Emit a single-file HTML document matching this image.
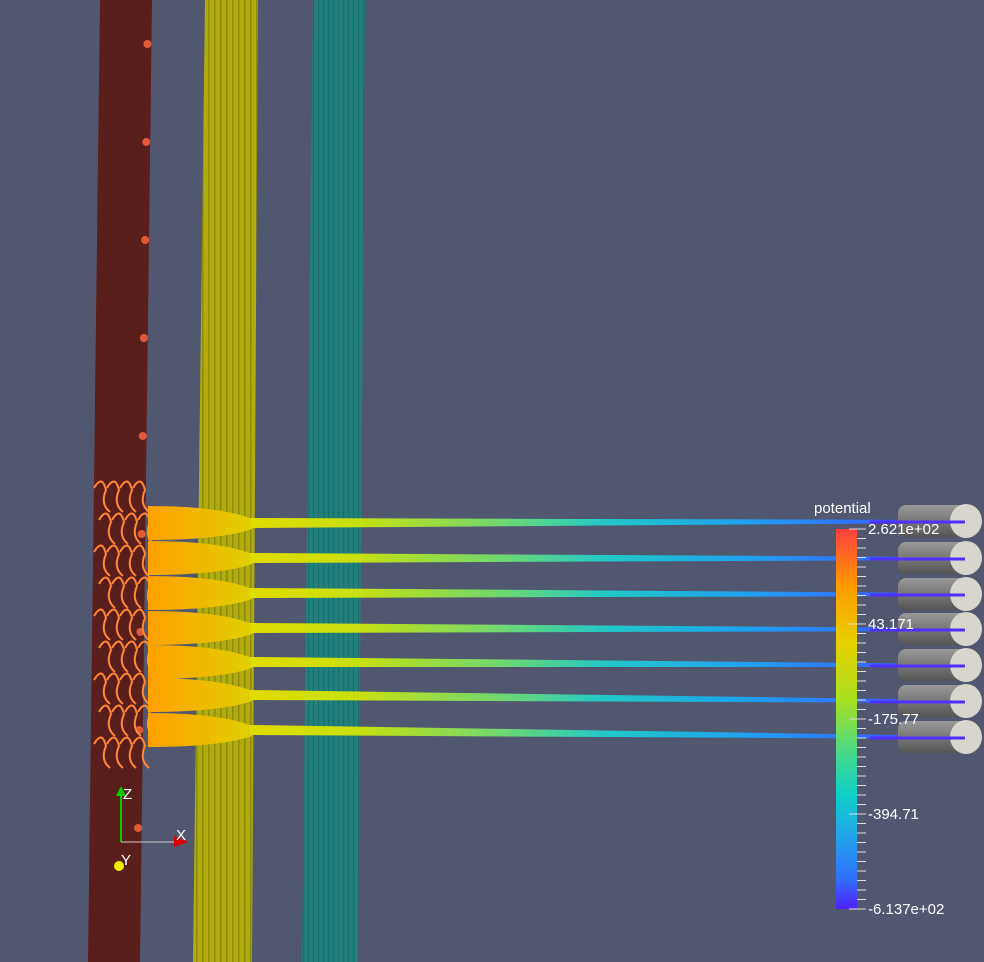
<!DOCTYPE html>
<html><head><meta charset="utf-8"><style>
html,body{margin:0;padding:0;background:#525770;overflow:hidden}
svg{display:block}
text{font-family:"Liberation Sans",sans-serif;fill:#fff}
</style></head><body>
<svg id="scene" width="984" height="962" viewBox="0 0 984 962">
<defs>
<linearGradient id="beam" gradientUnits="userSpaceOnUse" x1="250" x2="965" y1="0" y2="0">
<stop offset="0" stop-color="#e0dc00"/><stop offset="0.15" stop-color="#c8e010"/>
<stop offset="0.35" stop-color="#70d870"/><stop offset="0.5" stop-color="#20c8c8"/>
<stop offset="0.7" stop-color="#20a0f0"/><stop offset="0.85" stop-color="#3070ff"/><stop offset="1" stop-color="#5030ff"/>
</linearGradient>
<linearGradient id="cbar" x1="0" x2="0" y1="0" y2="1">
<stop offset="0" stop-color="#ff4040"/><stop offset="0.15" stop-color="#ff9a00"/><stop offset="0.3" stop-color="#e8d000"/>
<stop offset="0.45" stop-color="#a8e020"/><stop offset="0.6" stop-color="#40d890"/><stop offset="0.7" stop-color="#10d0c8"/>
<stop offset="0.8" stop-color="#20a8e8"/><stop offset="0.92" stop-color="#3070ff"/><stop offset="1" stop-color="#5020ff"/>
</linearGradient>
<linearGradient id="blob" x1="0" x2="1"><stop offset="0" stop-color="#ffa000"/><stop offset="1" stop-color="#e0d000"/></linearGradient>
<linearGradient id="cap" x1="0" x2="0" y1="0" y2="1"><stop offset="0" stop-color="#999"/><stop offset="0.5" stop-color="#777"/><stop offset="1" stop-color="#555"/></linearGradient>
<pattern id="stripesY" width="6" height="40" patternUnits="userSpaceOnUse"><rect width="6" height="40" fill="#b0ac10"/><rect x="4" width="1.5" height="40" fill="#8e8a0a"/></pattern>
<pattern id="stripesT" width="5" height="40" patternUnits="userSpaceOnUse"><rect width="5" height="40" fill="#22807c"/><rect x="3" width="1.2" height="40" fill="#1c6e6c"/></pattern>
</defs>
<polygon points="100,0 152,0 140,962 88,962" fill="#5a1f1c"/>
<polygon points="205,0 258,0 252,962 193,962" fill="url(#stripesY)"/>
<polygon points="313,0 365,0 358,962 302,962" fill="url(#stripesT)"/>
<g id="dots"></g>
<g id="beams"></g>
<g id="caps"></g>
<g>
<text x="814" y="513" font-size="15">potential</text>
<rect x="836" y="529" width="21" height="380" fill="url(#cbar)"/>
<g id="cticks"></g>
</g>
<g>
<line x1="121" y1="842" x2="121" y2="792" stroke="#0c0" stroke-width="2"/>
<polygon points="116,796 126,796 121,786" fill="#0c0"/>
<line x1="121" y1="842" x2="178" y2="842" stroke="#ccc" stroke-width="1"/>
<polygon points="174,836 188,842 174,847" fill="#d00"/>
<circle cx="119" cy="866" r="5" fill="#ee0"/>
<text x="123" y="799" font-size="15">Z</text>
<text x="176" y="840" font-size="15">X</text>
<text x="121" y="865" font-size="15">Y</text>
</g>
</svg>
<script>
const beamLeftY=[523,558,593,628,662,695,730];
const beamRightY=[522,559,595,630,666,702,738];
const tickLabels=["2.621e+02","43.171","-175.77","-394.71","-6.137e+02"];
const tickValues=[262.1,43.171,-175.77,-394.71,-613.7];
const NS="http://www.w3.org/2000/svg";
function mk(t,a,p){const e=document.createElementNS(NS,t);for(const k in a)e.setAttribute(k,a[k]);p.appendChild(e);return e;}
const dots=document.getElementById('dots');
for(let i=0;i<9;i++){const y=44+i*98;const c=mk('circle',{cx:148-y*0.012,cy:y,r:4,fill:'#e05a38'},dots);

}
const sw=mk('g',{},dots);


for(let r=0;r<9;r++)for(let c=0;c<4;c++){mk('path',{d:`M${94+c*13+(r%2)*5} ${488+r*32} q8 -14 12 2 q-6 14 4 22`,stroke:'#ff8838',fill:'none','stroke-width':2},sw);}
const beams=document.getElementById('beams');
beamLeftY.forEach((y0,i)=>{const y1=beamRightY[i];const g=mk('g',{},beams);


mk('path',{d:`M148 ${y0-17} Q220 ${y0-17} 252 ${y0-4} L252 ${y0+6} Q220 ${y0+17} 148 ${y0+17}Z`,fill:'url(#blob)'},g);
mk('polygon',{points:`250,${y0-5} 965,${y1-2} 965,${y1+1} 250,${y0+5}`,fill:'url(#beam)'},g);});
const caps=document.getElementById('caps');
beamRightY.forEach(y=>{const g=mk('g',{},caps);


mk('rect',{x:898,y:y-17,width:70,height:32,rx:8,fill:'url(#cap)'},g);
mk('ellipse',{cx:966,cy:y-1,rx:16,ry:17,fill:'#d8d6cc'},g);
mk('line',{x1:870,y1:y,x2:965,y2:y,stroke:'#5030ff','stroke-width':3},g);});
const ct=document.getElementById('cticks');
const barTop=529,barBot=909,vmax=tickValues[0],vmin=tickValues[tickValues.length-1];
const sy=v=>barTop+(vmax-v)/(vmax-vmin)*(barBot-barTop);
for(let i=0;i<=40;i++){const y=barTop+i*(barBot-barTop)/40;mk('line',{x1:857,y1:y,x2:866,y2:y,stroke:'#ddd','stroke-width':1},ct);}
tickValues.forEach((v,i)=>{const y=sy(v);
mk('line',{x1:849,y1:y,x2:866,y2:y,stroke:'#ddd','stroke-width':1},ct);
const t=mk('text',{x:868,y:y+5,'font-size':15},ct);t.textContent=tickLabels[i];

});
</script>
</body></html>
